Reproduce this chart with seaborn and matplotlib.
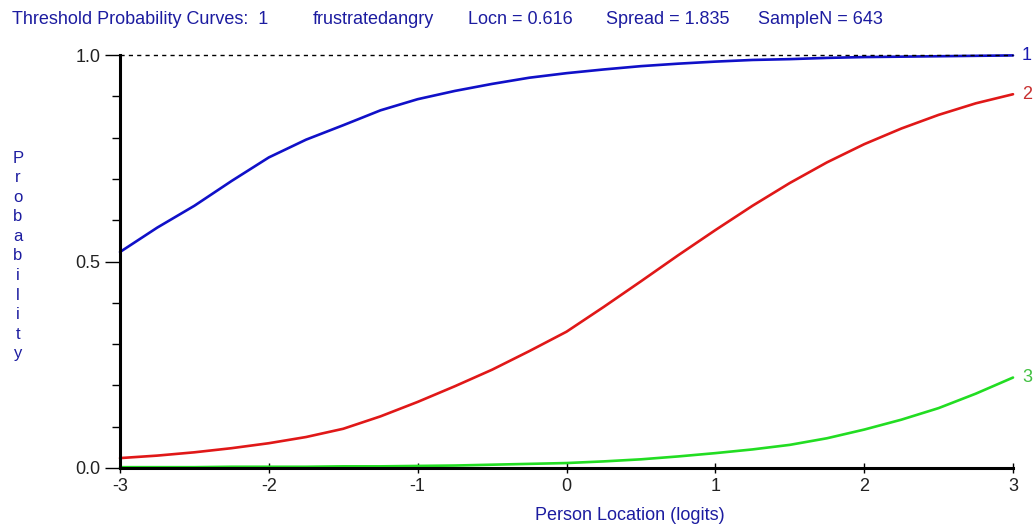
import numpy as np
import pandas as pd
import matplotlib
matplotlib.use("Agg")
import matplotlib.pyplot as plt
import seaborn as sns
from matplotlib.ticker import MultipleLocator

# person location (logits)
locations = [-3.0, -2.75, -2.5, -2.25, -2.0, -1.75, -1.5, -1.25, -1.0, -0.75, -0.5, -0.25,
             0.0, 0.25, 0.5, 0.75, 1.0, 1.25, 1.5, 1.75, 2.0, 2.25, 2.5, 2.75, 3.0]

# threshold probability curves
thresh_1 = [0.523, 0.582, 0.635, 0.695, 0.752, 0.795, 0.830, 0.866, 0.893, 0.913, 0.930, 0.945,
            0.956, 0.965, 0.973, 0.979, 0.984, 0.988, 0.990, 0.993, 0.995, 0.996, 0.997, 0.998, 0.999]
thresh_2 = [0.024, 0.030, 0.038, 0.048, 0.060, 0.075, 0.095, 0.125, 0.160, 0.198, 0.238, 0.283,
            0.330, 0.390, 0.452, 0.515, 0.576, 0.635, 0.690, 0.740, 0.784, 0.822, 0.855, 0.883, 0.905]
thresh_3 = [0.002, 0.002, 0.002, 0.003, 0.003, 0.003, 0.004, 0.004, 0.005, 0.006, 0.008, 0.010,
            0.012, 0.016, 0.021, 0.028, 0.036, 0.045, 0.056, 0.072, 0.093, 0.117, 0.145, 0.180, 0.219]

curve_names = ["1", "2", "3"]
line_colors = ["#1010c8", "#e01818", "#22dd22"]
label_colors = ["#1a1ab0", "#c83030", "#40c040"]

df = pd.DataFrame({
    "loc": locations * 3,
    "prob": thresh_1 + thresh_2 + thresh_3,
    "curve": sum([[n] * len(locations) for n in curve_names], []),
})

sns.set_style("white")
plt.rcParams["font.family"] = ["Liberation Sans", "DejaVu Sans"]

text_blue = "#1c1ca0"
fs = 13

fig = plt.figure(figsize=(10.36, 5.31), dpi=100)
ax = fig.add_axes([120 / 1036, 1 - 468 / 531, (1013 - 120) / 1036, (468 - 55) / 531])

sns.lineplot(data=df, x="loc", y="prob", hue="curve", palette=line_colors,
             linewidth=1.9, legend=False, ax=ax, clip_on=False)

# dashed reference at 1.0
ax.axhline(1.0, color="black", linestyle=(0, (3, 3)), linewidth=1.0, clip_on=False)

# curve labels at right end
for name, vals, c in zip(curve_names, [thresh_1, thresh_2, thresh_3], label_colors):
    ax.text(locations[-1] + 0.06, vals[-1], name, color=c, fontsize=fs,
            va="center", ha="left")

ax.set_xlim(-3, 3)
ax.set_ylim(0, 1)
ax.set_xticks([-3, -2, -1, 0, 1, 2, 3])
ax.set_xticklabels(["-3", "-2", "-1", "0", "1", "2", "3"])
ax.set_yticks([0.0, 0.5, 1.0])
ax.set_yticklabels(["0.0", "0.5", "1.0"])
ax.yaxis.set_minor_locator(MultipleLocator(0.1))

for s in ["top", "right"]:
    ax.spines[s].set_visible(False)
for s in ["left", "bottom"]:
    ax.spines[s].set_color("black")
    ax.spines[s].set_linewidth(2.2)

ax.tick_params(axis="y", which="major", direction="out", length=11, width=1,
               color="black", labelsize=fs, labelcolor="#222222", pad=3, left=True)
ax.tick_params(axis="y", which="minor", direction="out", length=6, width=1,
               color="black", left=True)
ax.tick_params(axis="x", which="major", direction="inout", length=7, width=1,
               color="black", labelsize=fs, labelcolor="#222222", pad=4, bottom=True)

ax.set_xlabel("")
ax.set_ylabel("")

# x label
fig.text(630 / 1036, 1 - 516 / 531, "Person Location (logits)", color=text_blue,
         fontsize=fs, ha="center", va="center")

# stacked y label
fig.text(18 / 1036, 1 - 256 / 531, "\n".join("Probability"), color=text_blue,
         fontsize=12, ha="center", va="center", linespacing=1.38)

# header
header = [
    (12, "Threshold Probability Curves:  1"),
    (313, "frustratedangry"),
    (468, "Locn = 0.616"),
    (606, "Spread = 1.835"),
    (758, "SampleN = 643"),
]
for x, t in header:
    fig.text(x / 1036, 1 - 20 / 531, t, color=text_blue, fontsize=fs,
             ha="left", va="center")

fig.savefig("out.png", dpi=100, facecolor="white")
